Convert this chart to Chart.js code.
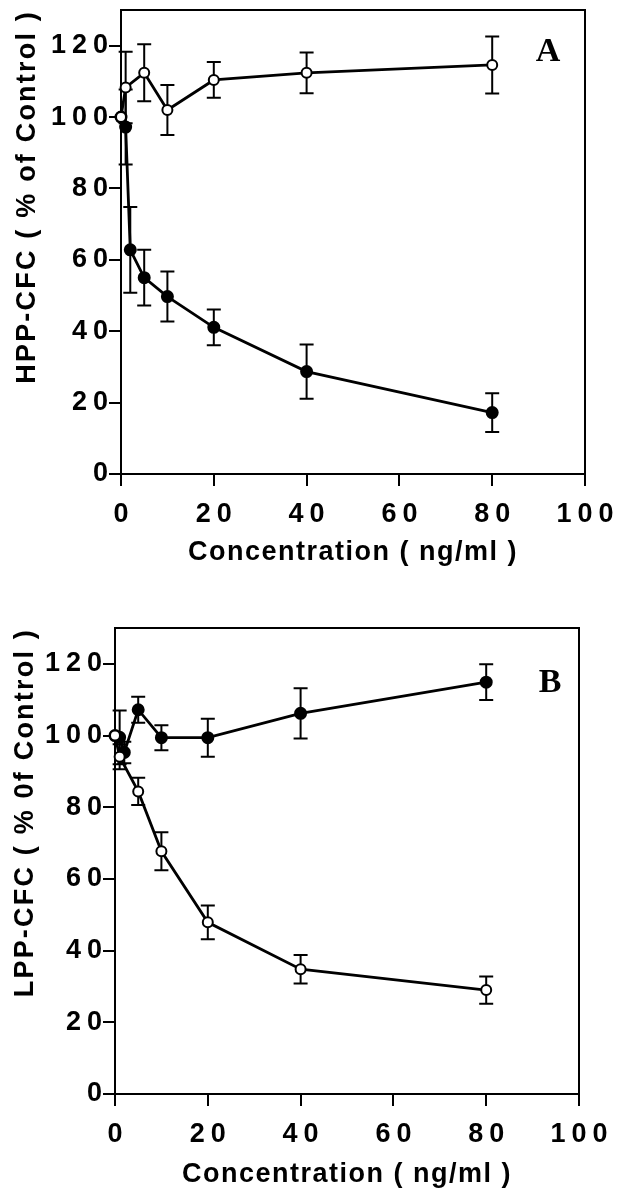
<!DOCTYPE html>
<html>
<head>
<meta charset="utf-8">
<title>HPP-CFC / LPP-CFC</title>
<script src="https://cdn.jsdelivr.net/npm/chart.js@4.4.1/dist/chart.umd.min.js"></script>
<style>
  html, body { margin: 0; padding: 0; background: #fff; }
  #wrap { position: relative; width: 623px; height: 1199px; }
  canvas { position: absolute; left: 0; }
  #panelA { top: 0; }
  #panelB { top: 600px; }
</style>
</head>
<body>
<div id="wrap">
  <canvas id="panelA" width="623" height="590"></canvas>
  <canvas id="panelB" width="623" height="599"></canvas>
</div>
<script>
// panel A - HPP-CFC
const doseA_open = [0, 1, 5, 10, 20, 40, 80]
const hppOpen = [100, 108.3, 112.4, 102, 110.4, 112.4, 114.6]
const hppOpenErr = [0, 10, 8, 7, 5, 5.7, 8]
const doseA_filled = [0, 1, 2, 5, 10, 20, 40, 80]
const hppFilled = [100, 97.2, 62.8, 55, 49.7, 41.1, 28.7, 17.2]
const hppFilledErr = [0, 10.5, 12, 7.8, 7, 5, 7.6, 5.4]

// panel B - LPP-CFC
const doseB_open = [0, 1, 5, 10, 20, 40, 80]
const lppOpen = [100, 94.1, 84.4, 67.7, 47.9, 34.8, 29]
const lppOpenErr = [0, 3.5, 3.8, 5.3, 4.7, 4, 3.8]
const doseB_filled = [0, 1, 2, 5, 10, 20, 40, 80]
const lppFilled = [100, 99.5, 95.3, 107.2, 99.4, 99.4, 106.2, 114.9]
const lppFilledErr = [0, 7.5, 3, 3.6, 3.5, 5.3, 7, 5]

const xTicks = [0, 20, 40, 60, 80, 100]
const yTicks = [0, 20, 40, 60, 80, 100, 120]

const SANS = '"Liberation Sans", Arial, sans-serif'

// linear scale whose labels / title get wider letter spacing, like the print
class SpacedLinearScale extends Chart.LinearScale {
    drawLabels(area) {
        const ctx = this.ctx
        const sp = this.options.labelSpacing || 0
        ctx.save()
        ctx.letterSpacing = sp + 'px'
        // spacing is also added after the last glyph, shift it back
        if (this.isHorizontal()) ctx.translate(sp / 2, 0)
        else ctx.translate(sp, 0)
        super.drawLabels(area)
        ctx.restore()
    }
    drawTitle() {
        const ctx = this.ctx
        ctx.save()
        ctx.letterSpacing = (this.options.titleSpacing || 0) + 'px'
        super.drawTitle()
        ctx.restore()
    }
}
SpacedLinearScale.id = 'spacedLinear'
SpacedLinearScale.defaults = Chart.LinearScale.defaults
Chart.register(SpacedLinearScale)

// box around the plot, panel letter and error bars (under the points)
const panelDecor = {
    id: 'panelDecor',
    beforeDatasetsDraw(chart, args, opts) {
        const { ctx, chartArea: a, scales: { x, y } } = chart
        ctx.save()
        ctx.strokeStyle = '#000'
        ctx.lineWidth = 2
        ctx.strokeRect(a.left, a.top, a.right - a.left, a.bottom - a.top)

        ctx.fillStyle = '#000'
        ctx.font = 'bold 34px "Liberation Serif", serif'
        ctx.textAlign = 'center'
        ctx.textBaseline = 'middle'
        ctx.fillText(opts.letter, a.right - opts.dx, a.top + opts.dy)

        chart.data.datasets.forEach(ds => {
            ds.data.forEach((p, i) => {
                const e = ds.errors[i]
                if (!e) return
                const px = x.getPixelForValue(p.x)
                const top = y.getPixelForValue(p.y + e)
                const bot = y.getPixelForValue(p.y - e)
                ctx.beginPath()
                ctx.moveTo(px, top); ctx.lineTo(px, bot)
                ctx.moveTo(px - 7, top); ctx.lineTo(px + 7, top)
                ctx.moveTo(px - 7, bot); ctx.lineTo(px + 7, bot)
                ctx.stroke()
            })
        })
        ctx.restore()
    }
}

function toPoints(xs, ys) {
    return xs.map((v, i) => ({ x: v, y: ys[i] }))
}

function makePanel(id, p) {
    const line = {
        showLine: true,
        borderColor: '#000',
        borderWidth: 2.8,
        tension: 0,
        pointBorderColor: '#000',
        pointBorderWidth: 2,
        clip: false
    }
    return new Chart(document.getElementById(id), {
        type: 'scatter',
        data: {
            datasets: [
                Object.assign({}, line, {
                    label: 'open',
                    data: toPoints(p.openX, p.openY),
                    errors: p.openErr,
                    pointRadius: 5,
                    pointBackgroundColor: '#fff'
                }),
                Object.assign({}, line, {
                    label: 'filled',
                    data: toPoints(p.filledX, p.filledY),
                    errors: p.filledErr,
                    pointRadius: 5.5,
                    pointBackgroundColor: '#000'
                })
            ]
        },
        options: {
            responsive: false,
            animation: false,
            layout: { padding: { top: p.top, right: p.right, left: 0, bottom: 0 } },
            plugins: {
                legend: { display: false },
                tooltip: { enabled: false },
                panelDecor: { letter: p.letter, dx: p.letterDx, dy: p.letterDy }
            },
            scales: {
                x: {
                    type: 'spacedLinear',
                    min: 0,
                    max: 100,
                    labelSpacing: 6,
                    titleSpacing: 1.5,
                    afterBuildTicks: s => { s.ticks = xTicks.map(v => ({ value: v })) },
                    afterFit: s => { s.height = p.xAxisH },
                    grid: { drawOnChartArea: false, tickLength: 12, lineWidth: 2, color: '#000' },
                    border: { display: true, width: 2, color: '#000' },
                    ticks: { color: '#000', padding: 12, font: { family: SANS, size: 27, weight: 'bold' } },
                    title: {
                        display: true,
                        text: 'Concentration ( ng/ml )',
                        color: '#000',
                        padding: { bottom: p.xTitlePad },
                        font: { family: SANS, size: 27, weight: 'bold' }
                    }
                },
                y: {
                    type: 'spacedLinear',
                    min: 0,
                    max: 130,
                    labelSpacing: 6,
                    titleSpacing: 2.2,
                    afterBuildTicks: s => { s.ticks = yTicks.map(v => ({ value: v })) },
                    afterFit: s => {
                        s.width = p.yAxisW
                        // top label sits well below the max, no room needed above
                        s.paddingTop = 0
                        s.paddingBottom = 0
                    },
                    grid: { drawOnChartArea: false, tickLength: 12, lineWidth: 2, color: '#000' },
                    border: { display: true, width: 2, color: '#000' },
                    ticks: { color: '#000', padding: 1, font: { family: SANS, size: 27, weight: 'bold' } },
                    title: {
                        display: true,
                        text: p.yTitle,
                        align: 'end',
                        color: '#000',
                        padding: { top: p.yTitlePad },
                        font: { family: SANS, size: 27, weight: 'bold' }
                    }
                }
            }
        },
        plugins: [panelDecor]
    })
}

document.addEventListener('DOMContentLoaded', function () {
    makePanel('panelA', {
        openX: doseA_open, openY: hppOpen, openErr: hppOpenErr,
        filledX: doseA_filled, filledY: hppFilled, filledErr: hppFilledErr,
        yTitle: 'HPP-CFC ( % of Control )',
        letter: 'A', letterDx: 37, letterDy: 42,
        top: 10, right: 38, yAxisW: 121, xAxisH: 116,
        xTitlePad: 21, yTitlePad: 11
    })
    makePanel('panelB', {
        openX: doseB_open, openY: lppOpen, openErr: lppOpenErr,
        filledX: doseB_filled, filledY: lppFilled, filledErr: lppFilledErr,
        yTitle: 'LPP-CFC ( % 0f Control )',
        letter: 'B', letterDx: 29, letterDy: 55,
        top: 28, right: 44, yAxisW: 115, xAxisH: 105,
        xTitlePad: 8, yTitlePad: 9
    })
})
</script>
</body>
</html>
